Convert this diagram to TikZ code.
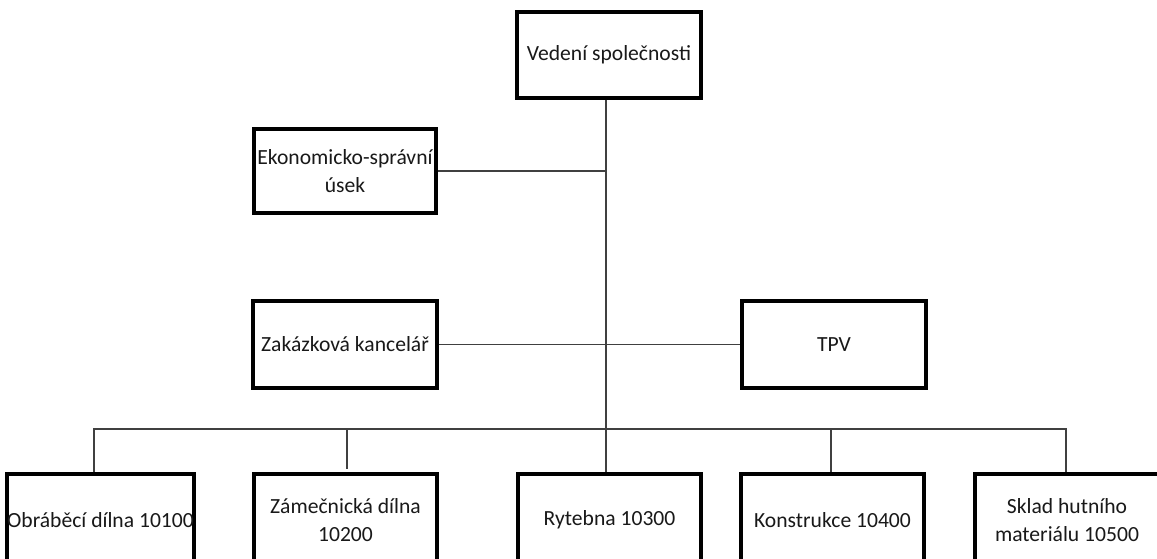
\documentclass[tikz,border=0pt]{standalone}
\usepackage{fontspec}
\setmainfont{Carlito}
\begin{document}
\begin{tikzpicture}[x=0.75pt,y=-0.75pt,
  box/.style={draw=black, line width=2.6pt, fill=white, inner sep=0pt, align=center,
    font=\fontsize{16.2}{20.5}\selectfont, text=black!90},
  conn/.style={draw=black!75, line width=1.1pt}]
\useasboundingbox (0,0) rectangle (1157,559);
\clip (0,0) rectangle (1157,559);
\coordinate (sp) at (606,0);
\coordinate (b1) at (94,429);
\coordinate (b2) at (347,429);
\coordinate (b4) at (831,429);
\coordinate (b5) at (1066,429);
\coordinate (b2e) at (347,469);
% nodes
\node[box, minimum width=184*0.75pt, minimum height=86*0.75pt] (top) at (609,55) {Vedení společnosti};
\node[box, minimum width=182*0.75pt, minimum height=84*0.75pt] (ekon) at (345,171) {Ekonomicko-správní\\úsek};
\node[box, minimum width=184*0.75pt, minimum height=87*0.75pt] (zak) at (345,344.5) {Zakázková kancelář};
\node[box, minimum width=184*0.75pt, minimum height=87*0.75pt] (tpv) at (834,344.5) {TPV};
\node[box, minimum width=185*0.75pt, minimum height=92*0.75pt] (obr) at (100.5,520) {Obráběcí dílna 10100};
\node[box, minimum width=183*0.75pt, minimum height=92*0.75pt] (zam) at (345.5,520) {Zámečnická dílna\\10200};
\node[box, minimum width=183*0.75pt, minimum height=92*0.75pt] (ryt) at (609.5,520) {Rytebna 10300};
\node[box, minimum width=183*0.75pt, minimum height=92*0.75pt] (kon) at (832.5,520) {Konstrukce 10400};
\node[box, minimum width=184*0.75pt, minimum height=92*0.75pt] (skl) at (1067,520) {Sklad hutního\\materiálu 10500};
% connectors
\draw[conn] (top.south -| sp) -- (ryt.north -| sp);
\draw[conn] (ekon.east) -- (ekon.east -| sp);
\draw[conn] (zak.east) -- (tpv.west);
\draw[conn] (obr.north -| b1) -- (b1) -- (b5) -- (skl.north -| b5);
\draw[conn] (b2) -- (b2e);
\draw[conn] (b4) -- (kon.north -| b4);
\end{tikzpicture}
\end{document}
